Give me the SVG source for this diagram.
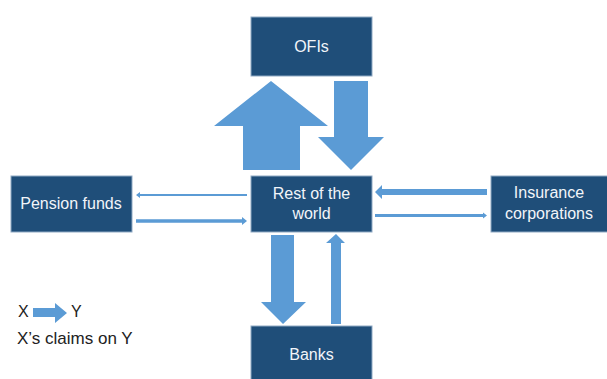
<svg xmlns="http://www.w3.org/2000/svg" width="607" height="379" viewBox="0 0 607 379">
<style>
.box{fill:#1F4E79;stroke:#8FA9C4;stroke-width:1}
.lbl{font-family:"Liberation Sans",Arial,sans-serif;font-size:16px;fill:#F2F5F9;text-anchor:middle}
.arr{fill:#5B9BD5}
.leg{font-family:"Liberation Sans",Arial,sans-serif;font-size:16px;fill:#222}
.leg2{font-family:"Liberation Sans",Arial,sans-serif;font-size:17px;fill:#222}
</style>
<rect width="607" height="379" fill="#fff"/>
<g id="ofis"><rect class="box" x="251" y="17" width="121" height="59"/><text class="lbl" x="311.5" y="52">OFIs</text></g>
<g id="rest"><rect class="box" x="251" y="176" width="121" height="56"/><text class="lbl" x="311.5" y="199">Rest of the</text><text class="lbl" x="311.5" y="219">world</text></g>
<g id="pension"><rect class="box" x="11" y="176" width="121" height="56"/><text class="lbl" x="71" y="209">Pension funds</text></g>
<g id="insurance"><rect class="box" x="491" y="176" width="120" height="56"/><text class="lbl" x="549" y="198">Insurance</text><text class="lbl" x="549" y="219">corporations</text></g>
<g id="banks"><rect class="box" x="251" y="326" width="121" height="58"/><text class="lbl" x="311.5" y="360">Banks</text></g>
<g id="connectors">
<polygon class="arr" points="271,81 328,126 300,126 300,170 243,170 243,126 214,126"/>
<polygon class="arr" points="334,81 368,81 368,137 384,137 351,170 318,137 334,137"/>
<polygon class="arr" points="271,235 294,235 294,302 306,302 283,324 261,302 271,302"/>
<polygon class="arr" points="336,234 345,243 341,243 341,324 331,324 331,243 326,243"/>
<polygon class="arr" points="136,195 140,192 140,194 247,194 247,196 140,196 140,198"/>
<polygon class="arr" points="247,221 242,217 242,219.3 136,219.3 136,222.7 242,222.7 242,225"/>
<polygon class="arr" points="375,192 382,185 382,189 487,189 487,195 382,195 382,199"/>
<polygon class="arr" points="487,215.5 483,212.5 483,214 375,214 375,217 483,217 483,218.5"/>
</g>
<g id="legend">
<text class="leg" x="18" y="317">X</text>
<polygon class="arr" points="33,308 55,308 55,303 67,313 55,323 55,317 33,317"/>
<text class="leg" x="71" y="317">Y</text>
<text class="leg2" x="17" y="344">X’s claims on Y</text>
</g>
</svg>
